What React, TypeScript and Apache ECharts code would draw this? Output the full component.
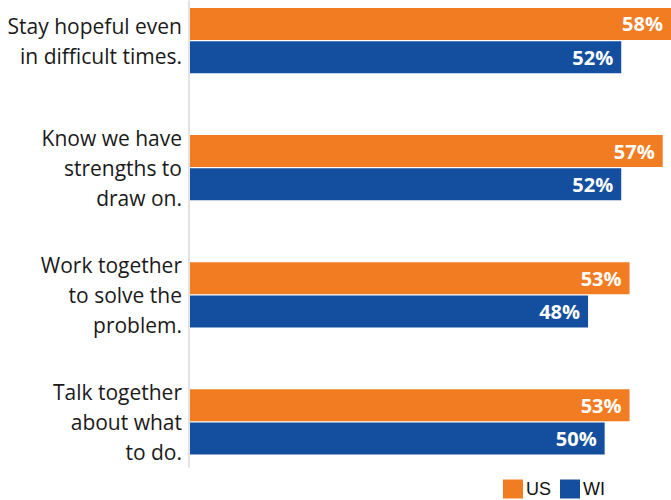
import React, { useEffect, useRef } from "react";
import * as echarts from "echarts";

const categories = [
  "Stay hopeful even\nin difficult times.",
  "Know we have\nstrengths to\ndraw on.",
  "Work together\nto solve the\nproblem.",
  "Talk together\nabout what\nto do.",
];
const usValues = [58, 57, 53, 53];
const wiValues = [52, 52, 48, 50];
const seriesNames = ["US", "WI"];

const OFFSET = 23.5;

export default function App() {
  const ref = useRef<HTMLDivElement>(null);
  useEffect(() => {
    if (!ref.current) return;
    const chart = echarts.init(ref.current, null, { renderer: "svg" });
    const label = {
      show: true,
      position: "insideRight",
      distance: 8,
      formatter: "{c}%",
      color: "#ffffff",
      fontFamily: "Open Sans",
      fontWeight: "bold",
      fontSize: 20,
    };
    chart.setOption({
      animation: false,
      grid: { left: 190, right: -3, top: 0, bottom: OFFSET, containLabel: false },
      legend: {
        left: 503,
        top: 479 + OFFSET,
        padding: 0,
        itemWidth: 20,
        itemHeight: 19,
        itemGap: 9,
        icon: "rect",
        textStyle: { fontFamily: "Liberation Sans", fontSize: 18, color: "#111", padding: [0, 0, 0, -2] },
        data: seriesNames,
      },
      xAxis: {
        type: "value",
        min: 0,
        max: 58,
        show: false,
      },
      yAxis: {
        type: "category",
        inverse: true,
        data: categories,
        axisLine: { show: false },
        axisTick: { show: false },
        axisLabel: {
          margin: 8,
          fontFamily: "Open Sans",
          fontSize: 21,
          lineHeight: 30,
          color: "#1a1a1a",
          align: "right",
          padding: [0, 0, 8, 0],
        },
      },
      graphic: [
        {
          type: "line",
          shape: { x1: 189, y1: OFFSET, x2: 189, y2: 467 + OFFSET },
          style: { stroke: "#d9d9d9", lineWidth: 1.5 },
          z: 0,
        },
      ],
      series: [
        {
          name: seriesNames[0],
          type: "bar",
          data: usValues,
          barWidth: 32,
          barGap: "4%",
          itemStyle: { color: "#F27C22" },
          label,
        },
        {
          name: seriesNames[1],
          type: "bar",
          data: wiValues,
          barWidth: 32,
          barGap: "4%",
          itemStyle: { color: "#134F9E" },
          label,
        },
      ],
    });
    return () => chart.dispose();
  }, []);
  return (
    <div
      ref={ref}
      style={{ position: "absolute", left: 0, top: -OFFSET, width: 671, height: 508 + OFFSET }}
    />
  );
}
